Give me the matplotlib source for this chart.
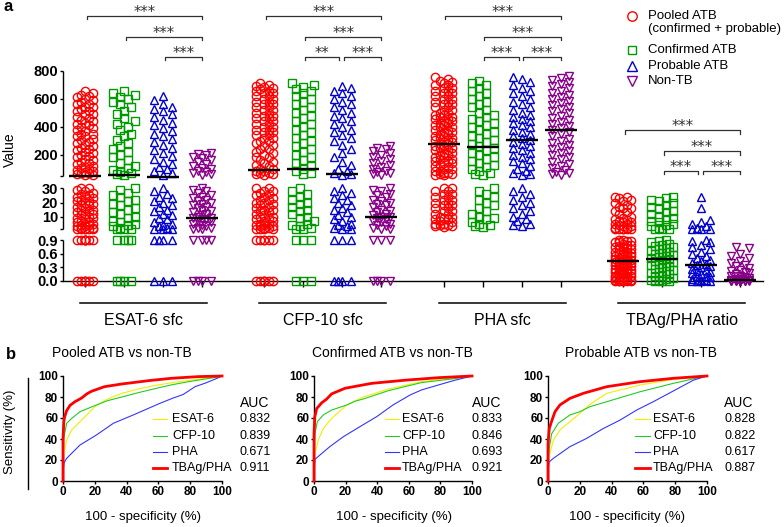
import numpy as np
import matplotlib
matplotlib.use('Agg')
import matplotlib.pyplot as plt
from matplotlib.lines import Line2D
import matplotlib.transforms as mtransforms

plt.rcParams['font.family'] = ['Liberation Sans', 'DejaVu Sans']

# ------------------------------------------------------------------ data (panel a)
groups = ['ESAT-6 sfc', 'CFP-10 sfc', 'PHA sfc', 'TBAg/PHA ratio']
series_names = ['Pooled ATB', 'Confirmed ATB', 'Probable ATB', 'Non-TB']
series_colors = ['#ff0000', '#009a00', '#0000d0', '#880088']
series_markers = ['o', 's', '^', 'v']

conf_esat = [660, 645, 630, 615, 600, 580, 560, 540, 515, 490, 465, 440, 420, 400, 375, 350,
             330, 305, 285, 260, 240, 220, 200, 180, 160, 140, 120, 105, 90, 78, 68, 60, 55,
             30, 29, 27, 25, 24, 22, 21, 19, 18, 16, 15, 13, 12, 10, 9, 7, 6, 5, 4, 3, 2,
             1.5, 1, 1, 0.9, 0.9, 0.9, 0.9, 0, 0, 0, 0]
prob_esat = [620, 590, 560, 545, 530, 510, 490, 470, 450, 430, 410, 390, 370, 350, 330, 310,
             290, 270, 250, 230, 210, 190, 170, 150, 130, 110, 95, 80, 65, 55,
             30, 28, 26, 24, 23, 21, 20, 18, 17, 15, 14, 12, 11, 9, 8, 6, 5, 4, 3, 2, 1.5,
             1, 1, 0.9, 0.9, 0.9, 0.9, 0, 0, 0]
nontb_esat = [215, 205, 195, 185, 175, 160, 150, 135, 120, 105, 95, 85, 75, 65, 58, 52,
              30, 29, 28, 27, 25, 24, 23, 22, 21, 20, 19, 18, 17, 16, 15, 14, 13, 12, 11, 10,
              9, 9, 8, 8, 7, 6, 5, 4, 3, 2, 2, 1, 1, 0.9, 0.9, 0.9, 0.9, 0, 0, 0, 0]

conf_cfp = [715, 700, 685, 670, 655, 640, 620, 600, 580, 560, 540, 520, 500, 480, 460, 440,
            420, 400, 380, 360, 340, 320, 300, 280, 260, 240, 220, 200, 180, 160, 140, 120,
            100, 85, 70, 58,
            30, 28, 26, 24, 22, 20, 19, 17, 15, 14, 12, 10, 9, 7, 5, 4, 3, 2, 1, 1,
            0.9, 0.9, 0.9, 0, 0, 0]
prob_cfp = [690, 675, 660, 640, 620, 600, 580, 560, 540, 520, 500, 480, 460, 440, 420, 400,
            380, 360, 340, 320, 300, 270, 240, 210, 180, 150, 125, 100, 85, 70, 60, 52,
            30, 28, 27, 25, 23, 22, 20, 18, 16, 15, 13, 11, 10, 8, 7, 5, 4, 3, 2, 1, 1,
            0.9, 0.9, 0.9, 0, 0, 0, 0]
nontb_cfp = [265, 250, 240, 225, 210, 200, 185, 170, 155, 140, 125, 110, 95, 85, 75, 65, 58, 52,
             30, 29, 28, 26, 25, 24, 22, 21, 20, 19, 18, 17, 15, 14, 13, 12, 11, 10, 10, 9,
             8, 7, 6, 5, 4, 3, 2, 1, 1, 0.9, 0.9, 0.9, 0, 0, 0, 0]

conf_pha = [730, 715, 700, 680, 660, 640, 620, 600, 580, 560, 540, 520, 500, 485, 470, 455,
            440, 425, 410, 395, 380, 365, 350, 335, 320, 305, 290, 275, 260, 245, 230, 215,
            200, 185, 170, 155, 140, 125, 110, 95, 80, 70, 60, 52,
            30, 28, 26, 24, 22, 20, 18, 16, 14, 12, 10, 9, 8, 6, 5, 4, 3, 2.5]
prob_pha = [760, 740, 720, 700, 680, 660, 640, 620, 600, 580, 560, 540, 520, 500, 485, 470,
            455, 440, 425, 410, 395, 380, 365, 350, 335, 320, 305, 290, 275, 260, 245, 230,
            215, 200, 185, 170, 155, 140, 120, 100, 85, 70, 60, 52,
            30, 28, 26, 24, 22, 20, 18, 16, 14, 12, 10, 8, 7, 5, 4, 3]
nontb_pha = [765, 750, 735, 720, 705, 690, 675, 660, 645, 630, 615, 600, 585, 570, 555, 540,
             525, 510, 495, 480, 465, 450, 435, 420, 405, 390, 375, 360, 345, 330, 315, 300,
             285, 270, 255, 240, 225, 210, 195, 180, 165, 150, 135, 120, 105, 90, 78, 66, 58, 52]

conf_ratio = [24, 23, 22, 21, 20, 18, 17, 16, 14, 13, 12, 10, 9, 8, 7, 6, 5, 4, 3, 2, 1.5,
              1, 1, 0.9, 0.88, 0.85, 0.82, 0.8, 0.78, 0.75, 0.72, 0.7, 0.67, 0.65, 0.62, 0.6,
              0.57, 0.55, 0.52, 0.5, 0.48, 0.46, 0.44, 0.42, 0.4, 0.37, 0.35, 0.32, 0.3, 0.27,
              0.25, 0.22, 0.2, 0.17, 0.15, 0.12, 0.1, 0.07, 0.05, 0.03, 0.02, 0.01, 0, 0]
prob_ratio = [24, 16, 7.5, 6, 4.5, 3, 2, 1.5, 1, 1, 0.9, 0.88, 0.85, 0.8, 0.75, 0.7, 0.65,
              0.6, 0.55, 0.5, 0.47, 0.44, 0.4, 0.37, 0.35, 0.32, 0.3, 0.27, 0.25, 0.22, 0.2,
              0.17, 0.15, 0.12, 0.1, 0.08, 0.05, 0.03, 0.02, 0.01, 0, 0, 0]
nontb_ratio = [0.76, 0.73, 0.6, 0.55, 0.5, 0.45, 0.4, 0.36, 0.32, 0.28, 0.25, 0.22, 0.2,
               0.17, 0.15, 0.12, 0.1, 0.08, 0.06, 0.05, 0.04, 0.03, 0.03, 0.02, 0.02, 0.02,
               0.01, 0.01, 0.01, 0.01, 0, 0, 0, 0, 0, 0, 0, 0, 0, 0, 0, 0]

# medians: pooled, confirmed, probable, non-TB
median_esat = [50, 57, 48, 9]
median_cfp = [93, 100, 64, 10]
median_pha = [279, 257, 307, 379]
median_ratio = [0.44, 0.48, 0.35, 0.02]

group_data = [
    [conf_esat + prob_esat, conf_esat, prob_esat, nontb_esat],
    [conf_cfp + prob_cfp, conf_cfp, prob_cfp, nontb_cfp],
    [conf_pha + prob_pha, conf_pha, prob_pha, nontb_pha],
    [conf_ratio + prob_ratio, conf_ratio, prob_ratio, nontb_ratio],
]
group_medians = [median_esat, median_cfp, median_pha, median_ratio]

# significance: (column i, column j, level, label)
sig_esat = [(0, 3, 0, '***'), (1, 3, 1, '***'), (2, 3, 2, '***')]
sig_cfp = [(0, 3, 0, '***'), (1, 3, 1, '***'), (1, 2, 2, '**'), (2, 3, 2, '***')]
sig_pha = [(0, 3, 0, '***'), (1, 3, 1, '***'), (1, 2, 2, '***'), (2, 3, 2, '***')]
sig_ratio = [(0, 3, 0, '***'), (1, 3, 1, '***'), (1, 2, 2, '***'), (2, 3, 2, '***')]
group_sigs = [sig_esat, sig_cfp, sig_pha, sig_ratio]

yticks_vals = [0, 0.3, 0.6, 0.9, 1, 10, 20, 30, 50, 200, 400, 600, 800]
yticks_labels = ['0.0', '0.3', '0.6', '0.9', '', '10', '20', '30', '', '200', '400', '600', '800']

# ------------------------------------------------------------------ data (panel b)
roc_titles = ['Pooled ATB vs non-TB', 'Confirmed ATB vs non-TB', 'Probable ATB vs non-TB']
roc_names = ['ESAT-6', 'CFP-10', 'PHA', 'TBAg/PHA']
roc_colors = ['#f2ee00', '#22cc22', '#3535ff', '#ff0000']
roc_lw = [0.8, 0.8, 0.8, 2.0]
auc_values = [[0.832, 0.839, 0.671, 0.911],
              [0.833, 0.846, 0.693, 0.921],
              [0.828, 0.822, 0.617, 0.887]]

roc1_esat_fpr = [0, 0, 0.6, 2.3, 5.5, 10.7, 17, 20, 28, 37, 47, 58, 68, 79, 90, 96, 100]
roc1_esat_tpr = [0, 18, 26, 39, 48.6, 56.5, 66, 70.8, 78, 83.5, 87.5, 91, 93.5, 95.7, 98, 99, 100]
roc1_cfp_fpr = [0, 0, 0.5, 2.3, 5.5, 10.7, 21, 28, 37, 47, 58, 68, 79, 90, 96, 100]
roc1_cfp_tpr = [0, 25, 41, 55, 59.7, 66, 72.4, 76.5, 80, 84, 88, 91.5, 94.6, 97.3, 98.7, 100]
roc1_pha_fpr = [0, 0, 0.6, 2.3, 10.7, 21, 31.7, 44.2, 61, 68.4, 75.7, 83, 90, 95.6, 100]
roc1_pha_tpr = [0, 8, 17, 21.6, 34.3, 43.8, 55, 62.9, 74, 78.5, 82.5, 89.8, 93.5, 97, 100]
roc1_tbag_fpr = [0, 0, 0.5, 1, 2.3, 4.4, 7.5, 11.7, 15, 18, 26, 37, 54, 68, 85, 100]
roc1_tbag_tpr = [0, 40, 56, 61, 67, 72, 75.5, 79, 83, 85.5, 89.8, 92.4, 95.6, 97.8, 99.4, 100]

roc2_esat_fpr = [0, 0, 0.6, 2.7, 5.9, 11.2, 20.7, 31.2, 47, 68, 89, 100]
roc2_esat_tpr = [0, 15, 26, 39, 50, 59.7, 72.4, 80, 87.5, 94.6, 98.4, 100]
roc2_cfp_fpr = [0, 0, 0.6, 2.1, 5.9, 11.2, 20.7, 26, 31, 47, 68, 89, 100]
roc2_cfp_tpr = [0, 30, 45, 56.5, 62.9, 67.6, 72.4, 76, 78, 86, 93.7, 97.5, 100]
roc2_pha_fpr = [0, 0, 0.6, 3.8, 10, 18.6, 29, 39.7, 50, 60.8, 68, 80, 89, 100]
roc2_pha_tpr = [0, 8, 20.6, 24.8, 32.7, 42.2, 51.7, 61.3, 72.4, 81.9, 86.7, 92, 95.9, 100]
roc2_tbag_fpr = [0, 0, 0.5, 1.7, 4.9, 8, 11.2, 19.6, 36.5, 57.6, 78.7, 100]
roc2_tbag_tpr = [0, 45, 61, 69, 74.5, 78, 83, 88.3, 93, 96, 98.4, 100]

roc3_esat_fpr = [0, 0, 0.6, 3.4, 7.5, 13.8, 20, 26.4, 36.9, 57.9, 78.8, 100]
roc3_esat_tpr = [0, 12, 23, 39, 48.6, 56.5, 64.4, 73, 83.5, 91.4, 96.8, 100]
roc3_cfp_fpr = [0, 0, 0.6, 2.3, 6.5, 13.8, 20, 26.4, 36.9, 57.9, 78.8, 95.6, 100]
roc3_cfp_tpr = [0, 15, 29.5, 45, 55, 62.9, 66, 70.8, 75.5, 85, 93, 98.7, 100]
roc3_pha_fpr = [0, 0, 0.6, 3.4, 13.8, 24.3, 34.8, 45.3, 55.8, 66.2, 76.7, 91.4, 100]
roc3_pha_tpr = [0, 8, 18, 21.6, 32.7, 40.6, 50, 58, 67.6, 75.5, 84, 96, 100]
roc3_tbag_fpr = [0, 0, 0.8, 2.3, 4.4, 7.5, 13.8, 22.2, 36.9, 57.9, 78.8, 100]
roc3_tbag_tpr = [0, 35, 50, 57, 66, 72.4, 78.7, 83.5, 89.8, 94.6, 97.8, 100]

roc_curves = [
    [(roc1_esat_fpr, roc1_esat_tpr), (roc1_cfp_fpr, roc1_cfp_tpr),
     (roc1_pha_fpr, roc1_pha_tpr), (roc1_tbag_fpr, roc1_tbag_tpr)],
    [(roc2_esat_fpr, roc2_esat_tpr), (roc2_cfp_fpr, roc2_cfp_tpr),
     (roc2_pha_fpr, roc2_pha_tpr), (roc2_tbag_fpr, roc2_tbag_tpr)],
    [(roc3_esat_fpr, roc3_esat_tpr), (roc3_cfp_fpr, roc3_cfp_tpr),
     (roc3_pha_fpr, roc3_pha_tpr), (roc3_tbag_fpr, roc3_tbag_tpr)],
]

# ------------------------------------------------------------------ figure
W, H = 784, 527
fig = plt.figure(figsize=(W / 100, H / 100), dpi=100)


def fx(x):
    return x / W


def fy(y):
    return 1 - y / H


# broken (segmented) value axis
seg_v = np.array([0, 0.9, 1, 30, 50, 800], dtype=float)
seg_h = np.array([0, 41, 52, 93, 106, 211], dtype=float)


def fwd(v):
    v = np.asarray(v, dtype=float)
    out = np.interp(v, seg_v, seg_h)
    out = np.where(v < 0, v * 41 / 0.9, out)
    out = np.where(v > 800, 211 + (v - 800) * 0.14, out)
    return out


def inv(h):
    h = np.asarray(h, dtype=float)
    out = np.interp(h, seg_h, seg_v)
    out = np.where(h < 0, h * 0.9 / 41, out)
    out = np.where(h > 211, 800 + (h - 211) / 0.14, out)
    return out


ax = fig.add_axes([fx(63), fy(281), fx(763) - fx(63), fy(71) - fy(281)])
ax.set_yscale('function', functions=(fwd, inv))
XL = (-0.564, 17.385)
ax.set_xlim(*XL)
ax.set_ylim(0, 800)

x_ppu = 700 / (XL[1] - XL[0])      # pixels per x unit
y_ppu = 210 / 211.0                # pixels per h unit

marker_sizes = [6.0, 5.2, 6.3, 6.3]
marker_px = [8.3, 7.3, 8.7, 8.7]


def swarm_offsets(hpx, d, maxoff):
    """Symmetric beeswarm placement in pixel units."""
    order = np.argsort(hpx, kind='stable')
    px_list, py_list = [], []
    offs = np.zeros(len(hpx))
    step = d / 2
    mags = [0.0]
    k = 1
    while k * step <= maxoff + 1e-9:
        mags.append(k * step)
        k += 1
    last_sign = 1.0
    for idx in order:
        y = hpx[idx]
        pxa = np.array(px_list)
        pya = np.array(py_list)
        cands = [0.0]
        for m in mags[1:]:
            cands += [-last_sign * m, last_sign * m]
        best, bestd = 0.0, -1.0
        for c in cands:
            md = np.min(np.hypot(pxa - c, pya - y)) if len(pxa) else np.inf
            if md >= d * 0.95:
                best = c
                break
            if md > bestd + 1e-6:
                best, bestd = c, md
        if best != 0:
            last_sign = np.sign(best)
        offs[idx] = best
        px_list.append(best)
        py_list.append(y)
    return offs


col_positions = []
for g in range(4):
    for i in range(4):
        xc = g * 4.6 + i
        col_positions.append(xc)
        vals = np.array(group_data[g][i], dtype=float)
        hpx = fwd(vals) * y_ppu
        offs = swarm_offsets(hpx, marker_px[i], 11.5) / x_ppu
        ax.plot(xc + offs, vals, linestyle='none', marker=series_markers[i],
                mfc='none', mec=series_colors[i], ms=marker_sizes[i], mew=1.0,
                clip_on=False, zorder=3)
        ax.hlines(group_medians[g][i], xc - 0.41, xc + 0.41, color='black',
                  lw=1.7, zorder=5)

for s in ['top', 'right', 'left']:
    ax.spines[s].set_visible(False)
ax.spines['bottom'].set_linewidth(1.0)
ax.set_xticks(col_positions)
ax.tick_params(axis='x', length=4, width=1, labelbottom=False, direction='out')
ax.set_yticks(yticks_vals)
ax.set_yticklabels(yticks_labels, fontweight='bold', fontsize=10.5)
ax.tick_params(axis='y', length=2.5, width=1, pad=1)
ax.yaxis.set_minor_locator(matplotlib.ticker.NullLocator())

tr_y = mtransforms.blended_transform_factory(ax.transAxes, ax.transData)
for lo, hi in [(0, 0.9), (1, 30), (50, 800)]:
    ax.plot([0, 0], [lo, hi], transform=tr_y, color='black', lw=1.0,
            clip_on=False, solid_capstyle='butt')

tr_x = mtransforms.blended_transform_factory(ax.transData, ax.transAxes)
for g, name in enumerate(groups):
    c = g * 4.6 + 1.5
    ax.plot([c - 1.63, c + 1.63], [-0.105, -0.105], transform=tr_x, color='black',
            lw=1.1, clip_on=False)
    ax.text(c, -0.188, name, transform=tr_x, ha='center', va='center', fontsize=11.5)

levels_top = [1.262, 1.162, 1.067]
levels_ratio = [0.719, 0.619, 0.524]
tick_len = 3.5 / 210
star_off = mtransforms.ScaledTranslation(0, -1 / 72, fig.dpi_scale_trans)
for g, sigs in enumerate(group_sigs):
    levels = levels_ratio if g == 3 else levels_top
    for (i, j, lev, lab) in sigs:
        x0 = g * 4.6 + i + 0.04
        x1 = g * 4.6 + j - (0.0 if j == 3 else 0.08)
        yl = levels[lev]
        ax.plot([x0, x0, x1, x1], [yl - tick_len, yl, yl, yl - tick_len],
                transform=tr_x, color='#303030', lw=0.9, clip_on=False)
        ax.text((x0 + x1) / 2, yl, lab, transform=tr_x + star_off, ha='center',
                va='baseline', fontsize=10.5, family='DejaVu Sans', color='#303030')

# legend for panel a (drawn manually, GraphPad style)
leg_rows = [16, 50, 66, 81]
for i in range(4):
    fig.add_artist(Line2D([fx(632)], [fy(leg_rows[i])], marker=series_markers[i],
                          mfc='none', mec=series_colors[i], ms=marker_sizes[i] + 0.8,
                          mew=1.0, linestyle='none'))
    fig.text(fx(648), fy(leg_rows[i]), series_names[i], ha='left', va='center',
             fontsize=9.5)
fig.text(fx(648), fy(29), '(confirmed + probable)', ha='left', va='center', fontsize=9.5)

fig.text(fx(10), fy(150), 'Value', rotation=90, ha='center', va='center', fontsize=10)
fig.text(fx(4), fy(11), 'a', fontweight='bold', fontsize=12, ha='left', va='baseline')
fig.text(fx(6), fy(359), 'b', fontweight='bold', fontsize=12, ha='left', va='baseline')

# ------------------------------------------------------------------ panel b
roc_left = [63, 314, 548]
roc_width = [159, 158, 159]
title_cx = [122, 392, 641]
xlabel_cx = [143, 394, 627]
leg_line = [(0.566, 0.654, 0.686, 1.113), (0.45, 0.535, 0.557, 1.0),
            (0.547, 0.642, 0.66, 1.107)]
leg_rows_b = [0.59, 0.43, 0.276, 0.124]
for p in range(3):
    axr = fig.add_axes([fx(roc_left[p]), fy(481), roc_width[p] / W, fy(376) - fy(481)])
    for k in range(4):
        fpr, tpr = roc_curves[p][k]
        axr.plot(fpr, tpr, color=roc_colors[k], lw=roc_lw[k], clip_on=False,
                 zorder=3 + (1 if k == 3 else 0))
    axr.set_xlim(0, 100)
    axr.set_ylim(0, 100)
    axr.set_xticks([0, 20, 40, 60, 80, 100])
    axr.set_yticks([0, 20, 40, 60, 80, 100])
    for s in ['top', 'right']:
        axr.spines[s].set_visible(False)
    for s in ['left', 'bottom']:
        axr.spines[s].set_linewidth(1.0)
    axr.tick_params(length=2.5, width=1, pad=1, labelsize=8.5)
    for lab in axr.get_xticklabels() + axr.get_yticklabels():
        lab.set_fontweight('bold')
    l0, l1, tx, vx = leg_line[p]
    axr.text(vx, 0.743, 'AUC', transform=axr.transAxes, ha='left', va='center',
             fontsize=10)
    for k in range(4):
        yy = leg_rows_b[k]
        axr.plot([l0, l1], [yy, yy], transform=axr.transAxes, color=roc_colors[k],
                 lw=roc_lw[k], clip_on=False)
        axr.text(tx, yy, roc_names[k], transform=axr.transAxes, ha='left',
                 va='center', fontsize=9)
        axr.text(vx, yy, f'{auc_values[p][k]:.3f}', transform=axr.transAxes,
                 ha='left', va='center', fontsize=9)
    fig.text(fx(title_cx[p]), fy(353), roc_titles[p], ha='center', va='center',
             fontsize=10)
    fig.text(fx(xlabel_cx[p]), fy(517), '100 - specificity (%)', ha='center',
             va='center', fontsize=9.5)

fig.text(fx(10), fy(432), 'Sensitivity (%)', rotation=90, ha='center', va='center',
         fontsize=9.5)
fig.add_artist(Line2D([fx(28), fx(28)], [fy(378), fy(489)], color='black', lw=1.0))

fig.savefig('out.png', dpi=100)
